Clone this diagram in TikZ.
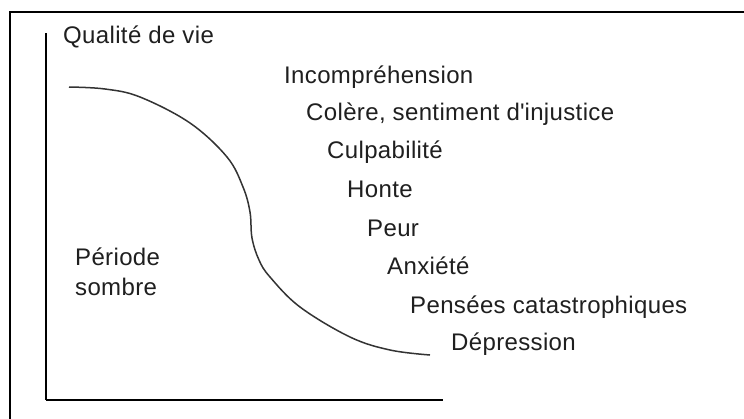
\documentclass[tikz,border=0pt]{standalone}
\usepackage{fontspec}
\setmainfont{Liberation Sans}[LetterSpace=1.5]
\begin{document}
\begin{tikzpicture}[x=1pt,y=-1pt,
  lbl/.style={anchor=base west, inner sep=0pt, text=black!88, font=\fontsize{24}{28}\selectfont},
  curveline/.style={draw=black!80, line width=1.5pt},
  axisline/.style={draw=black, line width=1.6pt},
  frameline/.style={draw=black, line width=2pt}]
\useasboundingbox (0,0) rectangle (744,418);
\fill[white] (0,0) rectangle (744,418);
% frame
\coordinate (fbl) at (10,420);
\coordinate (ftl) at (10,12);
\coordinate (ftr) at (746,12);
\draw[frameline] (fbl) -- (ftl) -- (ftr);
% axes
\coordinate (ytop) at (46,33);
\coordinate (orig) at (46,400);
\coordinate (xend) at (443,400);
\draw[axisline, line width=1.4pt] (ytop) -- (orig);
\draw[axisline] (orig) -- (xend);
% curve
\draw[curveline] plot[smooth, tension=0.6] coordinates {
 (69,87) (105,89) (140,97) (190,123) (227,157) (243,187) (250,212) (252,238) (259,260) (270,277) (300,307) (350,337) (390,350) (430,355)};
% labels
\node[lbl] (yl) at (63,43) {Qualité de vie};
\node[lbl] (t1) at (284,83) {Incompréhension};
\node[lbl] (t2) at (306,120) {Colère, sentiment d\textquotesingle injustice};
\node[lbl] (t3) at (327,158) {Culpabilité};
\node[lbl] (t4) at (347,197) {Honte};
\node[lbl] (t5) at (367,236) {Peur};
\node[lbl] (t6) at (387,274) {Anxiété};
\node[lbl] (t7) at (410,313) {Pensées catastrophiques};
\node[lbl] (t8) at (451,350) {Dépression};
\node[lbl] (p1) at (75,265) {Période};
\node[lbl] (p2) at (75,295) {sombre};
\end{tikzpicture}
\end{document}
